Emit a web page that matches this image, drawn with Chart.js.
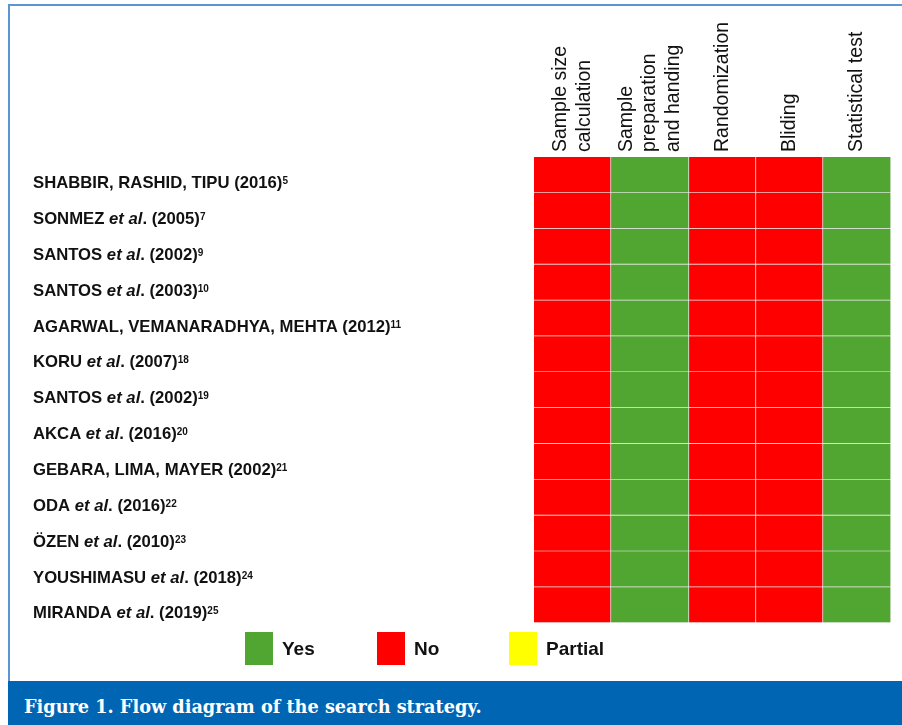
<!DOCTYPE html>
<html>
<head>
<meta charset="utf-8">
<script src="https://cdn.jsdelivr.net/npm/chart.js@4.4.1/dist/chart.umd.min.js"></script>
<style>
  html, body { margin: 0; padding: 0; background: #fff; }
  #wrap { position: relative; width: 902px; height: 725px; overflow: hidden; }
  #frame { position: absolute; left: 8px; top: 4px; width: 900px; height: 730px;
           border-top: 2px solid #5a96cf; border-left: 2px solid #5a96cf; box-sizing: border-box; }
  #chart { position: absolute; left: 0; top: 0; }
  #caption { position: absolute; left: 8px; top: 681px; width: 894px; height: 44px; overflow: hidden;
             background: #0066b3; color: #fff; box-sizing: border-box; padding-left: 16px;
             font: bold 17.7px "DejaVu Serif", serif; line-height: 51px; }
</style>
</head>
<body>
<div id="wrap">
  <div id="frame"></div>
  <canvas id="chart" width="902" height="680"></canvas>
  <div id="caption">Figure 1. Flow diagram of the search strategy.</div>
</div>
<script>
// 研究（行）
const studyAuthors = ['SHABBIR, RASHID, TIPU', 'SONMEZ', 'SANTOS', 'SANTOS',
  'AGARWAL, VEMANARADHYA, MEHTA', 'KORU', 'SANTOS', 'AKCA', 'GEBARA, LIMA, MAYER',
  'ODA', 'ÖZEN', 'YOUSHIMASU', 'MIRANDA'];
const studyEtAl = [false, true, true, true, false, true, true, true, false, true, true, true, true];
const studyYears = ['2016', '2005', '2002', '2003', '2012', '2007', '2002', '2016', '2002',
  '2016', '2010', '2018', '2019'];
const studyRefs = ['5', '7', '9', '10', '11', '18', '19', '20', '21', '22', '23', '24', '25'];

// 评价条目（列）
const criteria = [
  ['Sample size', 'calculation'],
  ['Sample', 'preparation', 'and handing'],
  ['Randomization'],
  ['Bliding'],
  ['Statistical test']
];

// 每列的评价结果
const sampleSize = ['No', 'No', 'No', 'No', 'No', 'No', 'No', 'No', 'No', 'No', 'No', 'No', 'No'];
const samplePrep = ['Yes', 'Yes', 'Yes', 'Yes', 'Yes', 'Yes', 'Yes', 'Yes', 'Yes', 'Yes', 'Yes', 'Yes', 'Yes'];
const randomization = ['No', 'No', 'No', 'No', 'No', 'No', 'No', 'No', 'No', 'No', 'No', 'No', 'No'];
const blinding = ['No', 'No', 'No', 'No', 'No', 'No', 'No', 'No', 'No', 'No', 'No', 'No', 'No'];
const statTest = ['Yes', 'Yes', 'Yes', 'Yes', 'Yes', 'Yes', 'Yes', 'Yes', 'Yes', 'Yes', 'Yes', 'Yes', 'Yes'];
const assessments = [sampleSize, samplePrep, randomization, blinding, statTest];

// 图例
const statusLabels = ['Yes', 'No', 'Partial'];
const statusColors = { Yes: '#50a631', No: '#ff0000', Partial: '#ffff00' };

// 列宽（布局用）
const colWidths = [77, 78, 67, 67, 68];

const labelFont = '"Liberation Sans", Arial, sans-serif';

function drawStudyLabel(ctx, i, y) {
  const parts = [{ t: studyAuthors[i], f: 'bold 16.7px ' + labelFont }];
  if (studyEtAl[i]) {
    parts.push({ t: ' et al', f: 'italic bold 16.7px ' + labelFont });
    parts.push({ t: '.', f: 'bold 16.7px ' + labelFont });
  }
  parts.push({ t: ' (' + studyYears[i] + ')', f: 'bold 16.7px ' + labelFont });
  parts.push({ t: studyRefs[i], f: 'bold 10px ' + labelFont, dy: -4 });
  let x = 33;
  parts.forEach(p => {
    ctx.font = p.f;
    ctx.fillText(p.t, x, y + (p.dy || 0));
    x += ctx.measureText(p.t).width;
  });
}

const textPlugin = {
  id: 'textPlugin',
  afterDraw(chart) {
    const ctx = chart.ctx;
    const xs = chart.scales.x;
    const ys = chart.scales.y;
    ctx.save();
    ctx.fillStyle = '#111';

    // 行标签
    ctx.textAlign = 'left';
    ctx.textBaseline = 'alphabetic';
    studyAuthors.forEach((a, i) => drawStudyLabel(ctx, i, ys.getPixelForValue(i) + 13.3));

    // 列标题（竖排）
    ctx.font = '19.5px ' + labelFont;
    ctx.textBaseline = 'middle';
    let start = 0;
    criteria.forEach((lines, j) => {
      const cx = xs.getPixelForValue(start + colWidths[j] / 2);
      lines.forEach((line, k) => {
        const x = cx + (k - (lines.length - 1) / 2) * 23.5;
        ctx.save();
        ctx.translate(x, 152);
        ctx.rotate(-Math.PI / 2);
        ctx.fillText(line, 0, 0);
        ctx.restore();
      });
      start += colWidths[j];
    });

    // 图例
    ctx.font = 'bold 19px ' + labelFont;
    ctx.textBaseline = 'alphabetic';
    statusLabels.forEach((s, k) => {
      const x = 245 + k * 132;
      ctx.fillStyle = statusColors[s];
      ctx.fillRect(x, 632, 28, 33);
      ctx.fillStyle = '#111';
      ctx.fillText(s, x + 37, 655);
    });
    ctx.restore();
  }
};

new Chart(document.getElementById('chart'), {
  type: 'bar',
  data: {
    labels: studyAuthors.map((a, i) => a + ' (' + studyYears[i] + ')'),
    datasets: criteria.map((c, j) => ({
      label: c.join(' '),
      data: studyAuthors.map(() => colWidths[j]),
      backgroundColor: assessments[j].map(s => statusColors[s]),
      borderColor: '#eeeeee',
      borderWidth: { top: 0, left: 0, right: 1, bottom: 1 },
      borderSkipped: false,
      categoryPercentage: 1,
      barPercentage: 1
    }))
  },
  options: {
    indexAxis: 'y',
    responsive: false,
    animation: false,
    layout: { padding: { left: 534, right: 11, top: 157, bottom: 57 } },
    scales: {
      x: { stacked: true, display: false, min: 0, max: 357 },
      y: { stacked: true, display: false }
    },
    plugins: {
      legend: { display: false },
      tooltip: { enabled: false }
    }
  },
  plugins: [textPlugin]
});
</script>
</body>
</html>
